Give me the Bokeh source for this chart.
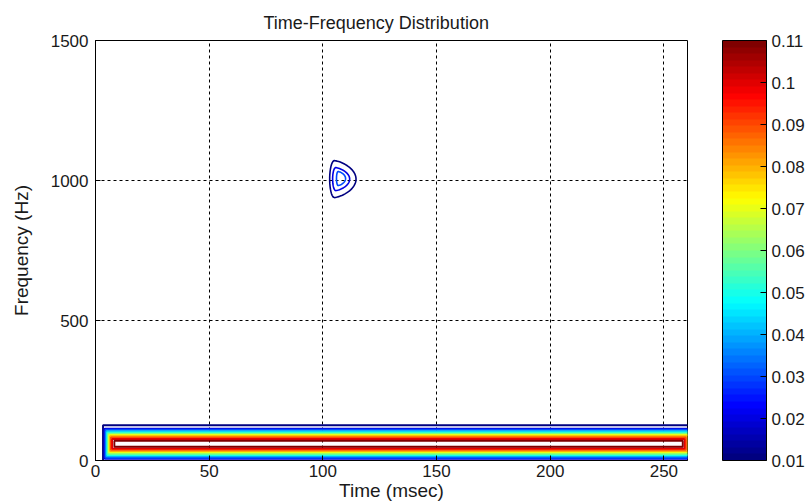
import numpy as np
from bokeh.plotting import figure
from bokeh.models import (Range1d, ColorBar, LinearColorMapper, FixedTicker,
                          ColumnDataSource, PrintfTickFormatter)
from bokeh.embed import file_html
from bokeh.resources import INLINE

# ---------------- data ----------------
title_text = "Time-Frequency Distribution"
x_label = "Time (msec)"
y_label = "Frequency (Hz)"
x_ticks = [0, 50, 100, 150, 200, 250]
y_ticks = [0, 500, 1000, 1500]
cb_ticks = [0.01, 0.02, 0.03, 0.04, 0.05, 0.06, 0.07, 0.08, 0.09, 0.10, 0.11]
cb_labels = ["0.01", "0.02", "0.03", "0.04", "0.05", "0.06", "0.07", "0.08", "0.09", "0.1", "0.11"]

# horizontal band (~60 Hz component): one closed contour per level
band_levels = [0.01, 0.02, 0.03, 0.04, 0.05, 0.06, 0.07, 0.08, 0.09, 0.10, 0.11]
band_center = [60, 60, 60, 60, 60, 60, 60, 60, 60, 60, 60]
band_half = [66, 54, 50, 45, 40.5, 36, 31, 26.5, 22, 17, 10.7]
band_t0 = [3.3, 4.0, 4.4, 4.8, 5.2, 5.6, 6.0, 6.4, 6.8, 7.3, 8.3]
band_t1 = [263, 263, 263, 263, 263, 263, 262, 260.4, 259.7, 259.1, 258.3]

# small blob (~1000 Hz component near 107 ms)
blob_levels = [0.01, 0.02, 0.03]
blob_t0 = [103.0, 104.3, 106.0]
blob_t1 = [114.6, 111.8, 110.0]
blob_f0 = [939, 964, 982]
blob_f1 = [1071, 1046, 1032]

# ---------------- helpers ----------------
def jet(x):
    r = min(max(1.5 - abs(4 * x - 3), 0), 1)
    g = min(max(1.5 - abs(4 * x - 2), 0), 1)
    b = min(max(1.5 - abs(4 * x - 1), 0), 1)
    return "#%02x%02x%02x" % (int(round(r * 255)), int(round(g * 255)), int(round(b * 255)))

lo, hi = cb_ticks[0], cb_ticks[-1]
jet64 = [jet(i / 63) for i in range(64)]

def level_color(v):
    return jet((v - lo) / (hi - lo))

FONT = "Liberation Sans"
TXT = "#1a1a1a"

p = figure(width=810, height=504, output_backend="svg", toolbar_location=None,
           x_range=Range1d(0, 260.4), y_range=Range1d(0, 1500),
           min_border_left=95, min_border_right=123, min_border_top=40,
           min_border_bottom=44, title=title_text)
p.background_fill_color = "white"
p.border_fill_color = "white"
p.outline_line_color = "black"
p.outline_line_width = 1

p.title.align = "left"
p.title.offset = 168
p.title.text_font = FONT
p.title.text_font_size = "18px"
p.title.text_font_style = "normal"
p.title.text_color = TXT
p.title.standoff = 15

for ax in (p.xaxis[0], p.yaxis[0]):
    ax.axis_label_text_font = FONT
    ax.axis_label_text_font_size = "19px"
    ax.axis_label_text_font_style = "normal"
    ax.axis_label_text_color = TXT
    ax.major_label_text_font = FONT
    ax.major_label_text_font_size = "17px"
    ax.major_label_text_color = TXT
    ax.major_tick_in = 5
    ax.major_tick_out = 0
    ax.minor_tick_line_color = None
    ax.axis_line_color = "black"
    ax.major_tick_line_color = "black"
p.xaxis[0].ticker = FixedTicker(ticks=x_ticks)
p.yaxis[0].ticker = FixedTicker(ticks=y_ticks)
p.xaxis[0].axis_label = x_label
p.yaxis[0].axis_label = y_label
p.xaxis[0].major_label_standoff = 4
p.yaxis[0].major_label_standoff = 7
p.xaxis[0].axis_label_standoff = 0
p.yaxis[0].axis_label_standoff = 16

p.xgrid.ticker = FixedTicker(ticks=x_ticks)
p.ygrid.ticker = FixedTicker(ticks=y_ticks)
for g in (p.xgrid[0], p.ygrid[0]):
    g.grid_line_color = "black"
    g.grid_line_dash = "3 3"
    g.grid_line_width = 1

# band contours (outer first)
band_src = ColumnDataSource(dict(
    x=[(a + b) / 2 for a, b in zip(band_t0, band_t1)],
    w=[b - a for a, b in zip(band_t0, band_t1)],
    y=band_center,
    h=[2 * v for v in band_half],
    c=[level_color(v) for v in band_levels],
))
p.rect(x="x", y="y", width="w", height="h", source=band_src, fill_color=None,
       line_color="c", line_width=1.9)

# blob contours: D-shaped closed curves built from their extents
xs, ys = [], []
for t0, t1, f0, f1 in zip(blob_t0, blob_t1, blob_f0, blob_f1):
    fc = (f0 + f1) / 2
    hh = (f1 - f0) / 2
    tc = t0 + 0.18 * (t1 - t0)
    th_r = np.linspace(-np.pi / 2, np.pi / 2, 40)
    xr = tc + (t1 - tc) * np.cos(th_r) ** 1.4
    yr = fc + hh * np.sin(th_r)
    th_l = np.linspace(np.pi / 2, 3 * np.pi / 2, 20)
    xl = tc + (tc - t0) * np.cos(th_l)
    yl = fc + hh * np.sin(th_l)
    xs.append(list(xr) + list(xl))
    ys.append(list(yr) + list(yl))
p.patches(xs, ys, fill_color=None, line_color=[level_color(v) for v in blob_levels],
          line_width=1.6)

mapper = LinearColorMapper(palette=jet64, low=lo, high=hi)
cb = ColorBar(color_mapper=mapper, ticker=FixedTicker(ticks=cb_ticks),
              formatter=PrintfTickFormatter(format="%g"),
              major_label_overrides={t: l for t, l in zip(cb_ticks, cb_labels)},
              width=44, height=420, padding=0, margin=0, location=(35, 0),
              bar_line_color="black", bar_line_width=1,
              major_tick_line_color="black", major_tick_in=6, major_tick_out=0,
              minor_tick_line_color=None,
              label_standoff=5, major_label_text_font=FONT,
              major_label_text_font_size="17px", major_label_text_color=TXT,
              border_line_color=None, background_fill_color=None)
p.add_layout(cb, "right")

open("out.html", "w").write(file_html(p, INLINE))
